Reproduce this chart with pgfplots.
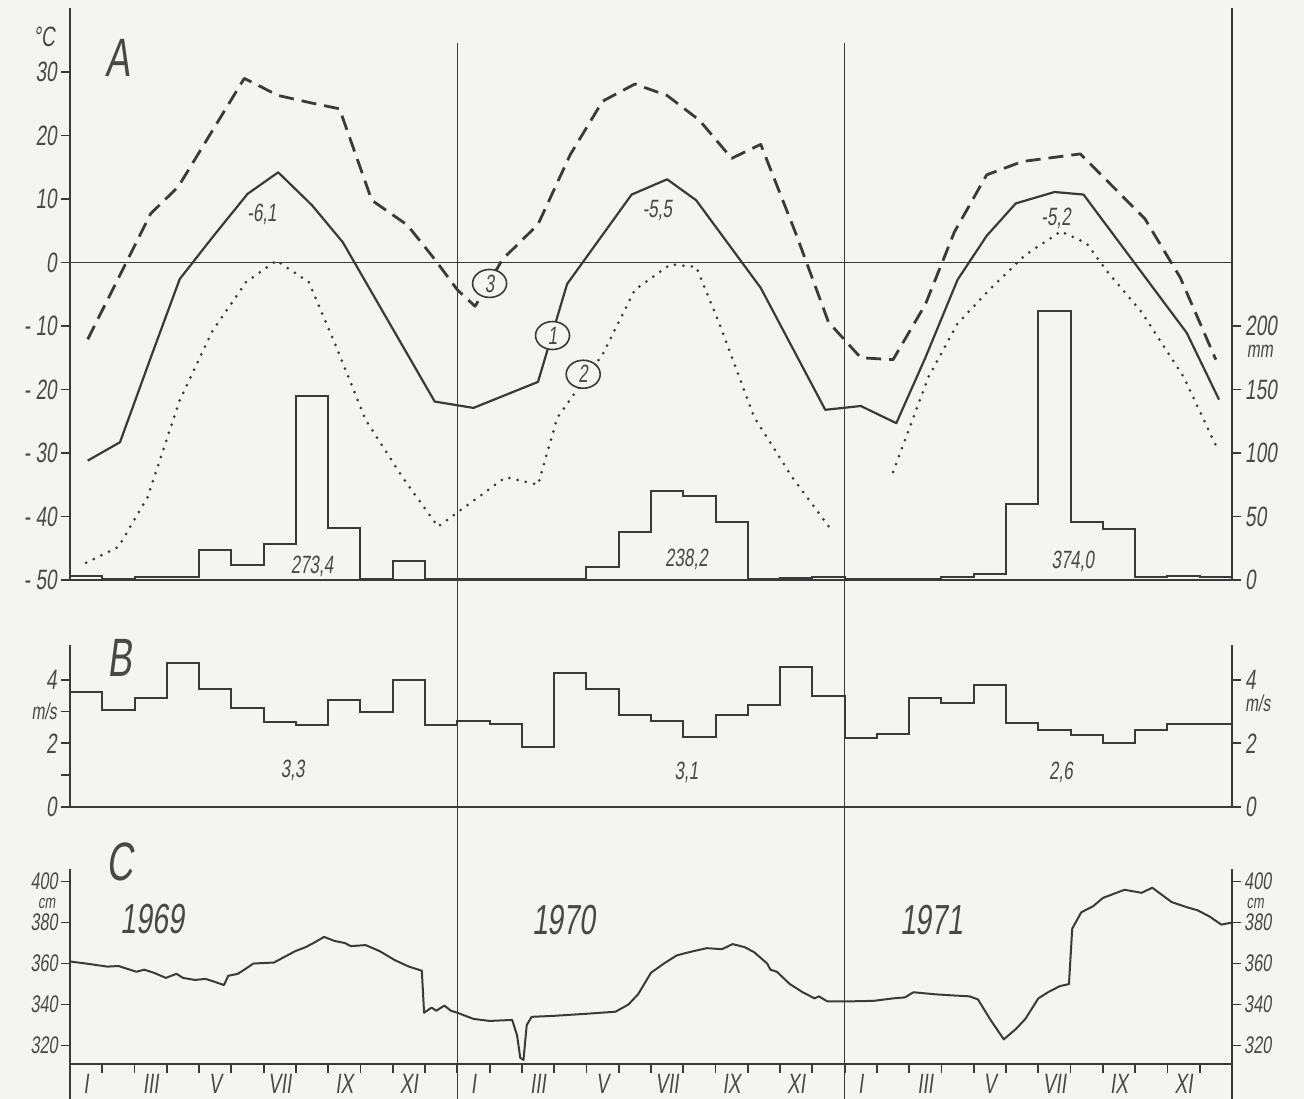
\documentclass[border=0pt]{standalone}
\usepackage{pgfplots}
\pgfplotsset{compat=1.18}
\usetikzlibrary{shapes.geometric}
\usepackage{fontspec}
\setmainfont{Liberation Sans}[FakeStretch=0.68,FakeSlant=0.13]
\definecolor{bgc}{RGB}{244,244,241}
\definecolor{lc}{RGB}{58,58,58}
\definecolor{tc}{RGB}{72,72,72}
\newcommand\ftick{\fontsize{28}{30}\selectfont}
\newcommand\fticks{\fontsize{24}{26}\selectfont}
\newcommand\fbig{\fontsize{54}{58}\selectfont}
\newcommand\fyear{\fontsize{42}{46}\selectfont}
\newcommand\fann{\fontsize{25}{28}\selectfont}
\newcommand\funit{\fontsize{23}{25}\selectfont}
\newcommand\fcm{\fontsize{19}{20}\selectfont}
\pgfplotsset{
  panel/.style={scale only axis, width=1162pt, xmin=0, xmax=36, clip=false,
    anchor=south west,
    axis line style={lc, line width=1.8pt},
    tick style={lc, line width=1.8pt},
    tick align=outside, major tick length=9pt, minor tick length=9pt,
    tick label style={font=\ftick, text=tc, inner sep=4pt},
    /pgf/number format/assume math mode=true,
    xtick=\empty},
  solidl/.style={lc, line width=2.2pt, line join=round, mark=none},
  dashl/.style={lc, line width=2.8pt, dash pattern=on 15pt off 8pt, line join=round, mark=none},
  dotl/.style={lc, line width=3pt, line cap=round, dash pattern=on 0pt off 8.5pt, mark=none},
  stepl/.style={lc, line width=2pt, const plot, mark=none},
}
\begin{document}
\begin{tikzpicture}
\useasboundingbox (0,0) rectangle (1304pt,1099pt);
\fill[bgc] (0,0) rectangle (1304pt,1099pt);

% ---------------- Panel A: temperature ----------------
\begin{axis}[panel, at={(70pt,519pt)}, height=571.5pt, ymin=-50, ymax=40,
  axis x line*=bottom, axis y line*=left,
  ytick={-50,-40,...,30}, yticklabels={- 50,- 40,- 30,- 20,- 10,0,10,20,30}]
% zero line and year separators
\draw[lc, line width=1.6pt] (axis cs:0,0) -- (axis cs:36,0);
\draw[lc, line width=1.6pt] (axis cs:12,34.5) -- (axis cs:12,-131.7);
\draw[lc, line width=1.6pt] (axis cs:24,34.5) -- (axis cs:24,-131.7);
% (1) mean temperature
\addplot[solidl] coordinates {
 (0.55,-31.2) (1.55,-28.3) (2.5,-15) (3.4,-2.6) (4.45,4.2) (5.5,10.8) (6.45,14.2)
 (7.5,9.0) (8.45,3.2) (11.3,-21.9) (12.5,-22.9) (14.5,-18.8) (15.4,-3.4)
 (17.4,10.7) (18.5,13.1) (19.4,9.8) (21.4,-4.0) (23.4,-23.2) (24.5,-22.6)
 (25.6,-25.3) (26.5,-15) (27.5,-2.7) (28.4,4.2) (29.3,9.3) (30.5,11.1)
 (31.4,10.7) (34.6,-11.1) (35.6,-21.6)};
% (3) maximum temperature
\addplot[dashl] coordinates {
 (0.55,-12.1) (2.5,7.7) (3.35,11.9) (5.4,29.0) (6.45,26.3) (7.5,25.1) (8.35,24.2)
 (9.35,9.8) (10.45,5.9) (11.3,0.5) (12.0,-4.3) (12.55,-6.9) (13.4,0.5) (14.5,6.0)
 (15.5,17.0) (16.5,25.4) (17.5,28.1) (18.5,26.3) (19.5,22.4) (20.5,16.4)
 (21.4,18.6) (22.5,4.4) (23.5,-9.4) (24.5,-15.0) (25.5,-15.3) (26.5,-6.6)
 (27.4,4.8) (28.4,13.8) (29.5,15.9) (31.3,17.1) (33.3,6.9) (34.4,-2.4) (35.5,-15.3)};
% (2) minimum temperature
\addplot[dotl] coordinates {
 (0.5,-47.3) (1.5,-44.8) (2.4,-37) (3.4,-21.7) (4.4,-10.9) (5.45,-3.1) (6.4,0.3)
 (7.4,-3.1) (8.3,-13.9) (9.15,-24.7) (10.3,-33.8) (11.4,-41.6) (13.5,-33.8)
 (14.5,-35) (15.1,-24.4) (16.5,-14.5) (17.5,-4.3) (18.6,-0.3) (19.4,-0.7)
 (20.1,-9.4) (21.2,-24.4) (22.4,-34) (23.6,-42.2)};
\addplot[dotl] coordinates {
 (25.5,-33) (26.6,-18) (27.5,-9.6) (28.5,-4.2) (29.6,1.2) (30.7,4.9) (31.5,3.0)
 (32.1,-1.2) (33.2,-7.8) (34.5,-18) (35.5,-28.8)};
% labels
\node[text=tc, font=\fbig] at (axis cs:1.49,32.2) {A};
\node[text=tc, font=\ftick] at (axis cs:-0.8,35.6) {°C};
\node[text=tc, font=\fann] at (axis cs:5.95,7.6) {-6,1};
\node[text=tc, font=\fann] at (axis cs:18.2,8.2) {-5,5};
\node[text=tc, font=\fann] at (axis cs:30.55,7.0) {-5,2};
\node[text=tc, font=\fann] at (axis cs:7.5,-47.8) {273,4};
\node[text=tc, font=\fann] at (axis cs:19.1,-46.8) {238,2};
\node[text=tc, font=\fann] at (axis cs:31.07,-47) {374,0};
\node[draw=lc, line width=1.6pt, fill=bgc, ellipse, inner sep=1pt, minimum width=34pt, minimum height=28pt, text=tc, font=\fann] at (axis cs:13.0,-3.3) {3};
\node[draw=lc, line width=1.6pt, fill=bgc, ellipse, inner sep=1pt, minimum width=34pt, minimum height=28pt, text=tc, font=\fann] at (axis cs:14.95,-11.5) {1};
\node[draw=lc, line width=1.6pt, fill=bgc, ellipse, inner sep=1pt, minimum width=34pt, minimum height=28pt, text=tc, font=\fann] at (axis cs:15.9,-17.6) {2};
\end{axis}

% ---------------- Panel A: precipitation (right axis) ----------------
\begin{axis}[panel, at={(70pt,519pt)}, height=571.5pt, ymin=0, ymax=450,
  axis x line=none, axis y line*=right,
  ytick={0,50,100,150,200}]
\addplot[stepl] coordinates {
 (0,3) (1,0.5) (2,2) (3,2) (4,24) (5,12) (6,28) (7,145) (8,41) (9,1) (10,15) (11,0.5)
 (12,1) (13,1) (14,1) (15,1) (16,10) (17,38) (18,70) (19,66) (20,46) (21,1) (22,1.2) (23,2)
 (24,0.5) (25,0.5) (26,1) (27,2) (28,5) (29,60) (30,212) (31,46) (32,40) (33,2) (34,3) (35,2) (36,2)};
\node[text=tc, font=\funit, anchor=west] at (axis cs:36.35,180) {mm};
\end{axis}

% ---------------- Panel B: wind speed ----------------
\begin{axis}[panel, at={(70pt,292pt)}, height=162.2pt, ymin=0, ymax=5.1,
  axis x line*=bottom, axis y line*=left,
  ytick={0,1,2,3,4}, yticklabels={0,,2,{\funit m/s},4}]
\addplot[stepl] coordinates {
 (0,3.63) (1,3.04) (2,3.43) (3,4.53) (4,3.72) (5,3.11) (6,2.67) (7,2.59) (8,3.37) (9,2.98) (10,4.0) (11,2.59)
 (12,2.7) (13,2.6) (14,1.9) (15,4.2) (16,3.7) (17,2.9) (18,2.7) (19,2.2) (20,2.9) (21,3.2) (22,4.4) (23,3.5)
 (24,2.16) (25,2.29) (26,3.44) (27,3.26) (28,3.84) (29,2.63) (30,2.42) (31,2.26) (32,2.0) (33,2.42) (34,2.6) (35,2.6) (36,2.6)};
\node[text=tc, font=\fbig] at (axis cs:1.55,4.7) {B};
\node[text=tc, font=\fann] at (axis cs:6.9,1.15) {3,3};
\node[text=tc, font=\fann] at (axis cs:19.1,1.1) {3,1};
\node[text=tc, font=\fann] at (axis cs:30.7,1.1) {2,6};
\end{axis}
\begin{axis}[panel, at={(70pt,292pt)}, height=162.2pt, ymin=0, ymax=5.1,
  axis x line=none, axis y line*=right, ytick={0,2,4}]
\node[text=tc, font=\funit, anchor=west] at (axis cs:36.3,3.25) {m/s};
\end{axis}

% ---------------- Panel C: water level ----------------
\begin{axis}[panel, at={(70pt,35pt)}, height=194.75pt, ymin=311, ymax=406,
  axis x line*=bottom, axis y line*=left,
  ytick={320,340,...,400},
  yticklabel style={font=\fticks, inner sep=3pt},
  xtick={0.5,2.5,...,34.5},
  xticklabels={I,III,V,VII,IX,XI,I,III,V,VII,IX,XI,I,III,V,VII,IX,XI},
  every major x tick/.style={draw=none},
  minor xtick={0,1,...,36},
  xticklabel style={font=\ftick, anchor=north, inner sep=0pt, yshift=-1pt}]
\draw[lc, line width=1.8pt] (axis cs:0,311) -- (axis cs:0,294);
\draw[lc, line width=1.8pt] (axis cs:36,311) -- (axis cs:36,294);
\addplot[lc, line width=2pt, line join=round, mark=none] coordinates {
 (0,361) (0.5,360) (1.16,358.5) (1.5,358.8) (2.06,356) (2.3,357) (2.6,355.5) (2.97,353) (3.3,355)
 (3.5,353) (3.87,352) (4.2,352.5) (4.5,351) (4.77,349.5) (4.9,354) (5.2,355) (5.4,357)
 (5.68,360) (6.32,360.5) (6.97,366) (7.3,368) (7.6,370.5) (7.87,373) (8.2,371) (8.52,370)
 (8.7,368.5) (9.16,369) (9.6,366) (10.06,361.7) (10.5,358.5) (10.9,356.5) (10.97,336)
 (11.2,338.5) (11.35,337) (11.6,339.5) (11.8,337) (12,336)
 (12.5,333) (13,332) (13.7,332.5) (13.85,325) (13.95,314) (14.05,313) (14.15,330) (14.3,334)
 (15,334.5) (16,335.5) (16.9,336.5) (17.3,340) (17.6,345) (18.0,355.5) (18.4,360)
 (18.8,364) (19.3,366) (19.73,367.5) (20.2,367) (20.53,369.5) (20.9,368) (21.2,365.5)
 (21.6,360) (21.7,357) (21.9,356) (22.3,350) (22.7,346) (23.07,343) (23.2,344) (23.47,341.5) (24,341.5)
 (24.9,341.8) (25.5,343) (25.87,343.5) (26.13,346) (26.8,345) (27.3,344.5) (27.87,344)
 (28.13,342.5) (28.5,333) (28.93,323) (29.3,328) (29.6,333) (30.0,343) (30.3,346)
 (30.67,349) (30.95,350) (31.05,377) (31.33,385) (31.7,388) (32.0,392) (32.67,396)
 (33.2,394.5) (33.53,397) (34.13,390) (34.6,387.5) (34.93,386) (35.3,383) (35.67,379) (36,380)};
\node[text=tc, font=\fbig] at (axis cs:1.55,409.5) {C};
\node[text=tc, font=\fyear] at (axis cs:2.55,381.5) {1969};
\node[text=tc, font=\fyear] at (axis cs:15.3,381) {1970};
\node[text=tc, font=\fyear] at (axis cs:26.7,381) {1971};
\node[text=tc, font=\fcm, anchor=east, inner sep=0pt] at (axis cs:-0.45,389.2) {cm};
\end{axis}
\begin{axis}[panel, at={(70pt,35pt)}, height=194.75pt, ymin=311, ymax=406,
  axis x line=none, axis y line*=right, ytick={320,340,...,400},
  yticklabel style={font=\fticks, inner sep=3pt}]
\node[text=tc, font=\fcm, anchor=west, inner sep=0pt] at (axis cs:36.45,389.2) {cm};
\end{axis}
\end{tikzpicture}
\end{document}
